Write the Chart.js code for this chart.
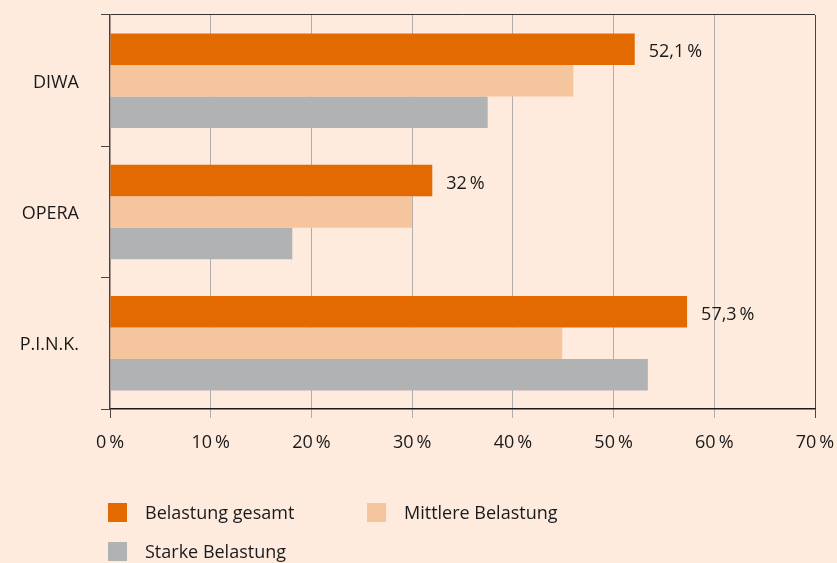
<!DOCTYPE html>
<html>
<head>
<meta charset="utf-8">
<script src="https://cdn.jsdelivr.net/npm/chart.js@4"></script>
<style>
  html, body { margin: 0; padding: 0; background: #feebde; }
  #wrap { position: relative; width: 837px; height: 563px; }
  .leg { position: absolute; font: 18px "Open Sans", sans-serif; color: #1a1a1a; line-height: 19px; white-space: nowrap; }
  .leg span { position: absolute; left: 0; top: 0; width: 19px; height: 19px; }
  .leg b { font-weight: normal; position: absolute; left: 37px; top: 0px; }
</style>
</head>
<body>
<div id="wrap">
  <canvas id="myChart" width="837" height="563"></canvas>
  <div id="legend"></div>
</div>
<script>
const categories = ['DIWA', 'OPERA', 'P.I.N.K.']
const seriesNames = ['Belastung gesamt', 'Mittlere Belastung', 'Starke Belastung']
const gesamt = [52.1, 32, 57.3]
const mittlere = [46, 30, 44.9]
const starke = [37.5, 18.1, 53.4]
const colors = ['#e36a00', '#f5c59e', '#b1b2b3']

const pct = v => String(v).replace('.', ',') + '\u2009%'
const font = { family: '"Open Sans", sans-serif', size: 18 }

const barLabels = {
  id: 'barLabels',
  afterDatasetsDraw(chart) {
    const ctx = chart.ctx
    const meta = chart.getDatasetMeta(0)
    ctx.save()
    ctx.font = '18px "Open Sans", sans-serif'
    ctx.fillStyle = '#1a1a1a'
    ctx.textBaseline = 'middle'
    meta.data.forEach((bar, i) => {
      ctx.fillText(pct(gesamt[i]), bar.x + 14, bar.y + 3)
    })
    ctx.restore()
  },
}

// no automatic room for overhanging tick labels: the plot box is fixed
const noPad = s => {
  s.paddingTop = 0
  s.paddingBottom = 0
  s.paddingLeft = 0
  s.paddingRight = 0
}

new Chart(document.getElementById('myChart').getContext('2d'), {
  type: 'bar',
  data: {
    labels: categories,
    datasets: [gesamt, mittlere, starke].map((d, i) => ({
      label: seriesNames[i],
      data: d,
      backgroundColor: colors[i],
      categoryPercentage: 0.72,
      barPercentage: 1,
    })),
  },
  options: {
    indexAxis: 'y',
    responsive: false,
    animation: false,
    layout: { padding: { top: 15, right: 22, bottom: 0, left: 0 } },
    plugins: { legend: { display: false }, tooltip: { enabled: false } },
    scales: {
      x: {
        min: 0,
        max: 70,
        afterFit: s => { s.height = 563 - 409; noPad(s) },
        ticks: { stepSize: 10, callback: v => pct(v), color: '#1a1a1a', font, padding: 14 },
        grid: {
          color: c => c.tick && c.tick.value === 0 ? 'transparent' : c.tick && c.tick.value === 70 ? '#4a4340' : '#b0aeac',
          tickColor: c => c.tick && (c.tick.value === 0 || c.tick.value === 70) ? '#4a4340' : '#b0aeac',
          tickLength: 9,
        },
        border: { color: '#1a1a1a', width: 1.5 },
      },
      y: {
        afterFit: s => { s.width = 110; noPad(s) },
        ticks: { color: '#1a1a1a', font, padding: 22, labelOffset: 2 },
        grid: {
          offset: true,
          color: c => c.index === 0 ? '#3a3330' : 'transparent',
          tickColor: '#4a4340',
          tickLength: 9,
        },
        border: { color: '#4a4340', width: 1.5 },
      },
    },
  },
  plugins: [barLabels],
})

const legendPos = [[108, 503], [367, 503], [108, 542]]
document.getElementById('legend').innerHTML = seriesNames.map((n, i) =>
  `<div class="leg" style="left:${legendPos[i][0]}px;top:${legendPos[i][1]}px"><span style="background:${colors[i]}"></span><b>${n}</b></div>`
).join('')
</script>
</body>
</html>
